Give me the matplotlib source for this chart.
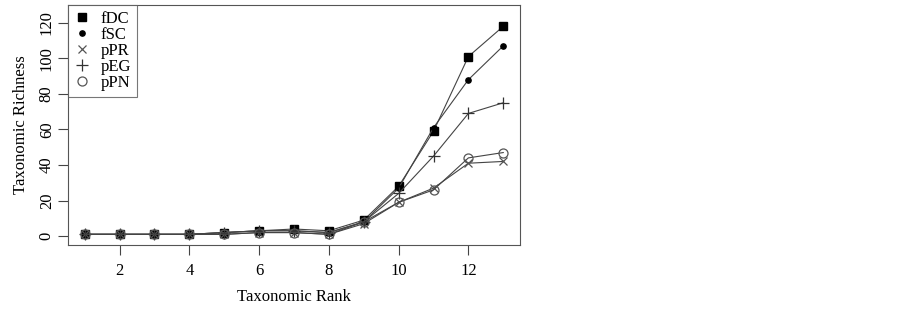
import matplotlib
matplotlib.use('Agg')
from matplotlib import pyplot as plt

plt.rcParams['font.family'] = ['Liberation Serif', 'DejaVu Serif']

rank = [1, 2, 3, 4, 5, 6, 7, 8, 9, 10, 11, 12, 13]
fDC = [1, 1, 1, 1, 2, 3, 4, 3, 9, 28, 59, 101, 118]
fSC = [1, 1, 1, 1, 2, 3, 3, 2, 8, 27, 61, 88, 107]
pPR = [1, 1, 1, 1, 1, 2, 2, 1, 7, 19, 27, 41, 42]
pEG = [1, 1, 1, 1, 2, 3, 3, 2, 8, 24, 45, 69, 75]
pPN = [1, 1, 1, 1, 1, 2, 2, 1, 8, 19, 26, 44, 47]

series = [
    ('fDC', fDC, dict(marker='s', ms=5.5, mfc='black', mec='black')),
    ('fSC', fSC, dict(marker='o', ms=3.8, mfc='black', mec='black')),
    ('pPR', pPR, dict(marker='x', ms=5.5, mfc='none', mec='#555555', mew=0.9)),
    ('pEG', pEG, dict(marker='+', ms=8, mfc='none', mec='#333333', mew=0.9)),
    ('pPN', pPN, dict(marker='o', ms=6.5, mfc='none', mec='#555555', mew=0.9)),
]

fig = plt.figure(figsize=(9.02, 3.09), dpi=100)
ax = fig.add_axes([68/902, 1-245/309, (520-68)/902, (245-5)/309])

for name, vals, st in series:
    ax.plot(rank, vals, color='#444444', lw=0.8, label=name, **st)

ax.set_xlim(0.52, 13.48)
ax.set_ylim(-5, 130)
ax.set_xticks([2, 4, 6, 8, 10, 12])
ax.set_yticks([0, 20, 40, 60, 80, 100, 120])
ax.tick_params(direction='out', length=7, width=0.8, color='#444444', labelsize=12)
ax.tick_params(axis='x', pad=6)
ax.tick_params(axis='y', pad=2.5)
for lab in ax.get_yticklabels():
    lab.set_rotation(90)
    lab.set_va('center')
for s in ax.spines.values():
    s.set_color('#555555')
    s.set_linewidth(0.8)

ax.set_xlabel('Taxonomic Rank', fontsize=12, labelpad=7)
ax.set_ylabel('Taxonomic Richness', fontsize=12, labelpad=7)

leg = ax.legend(loc='upper left', bbox_to_anchor=(0, 1), fontsize=12, frameon=True,
                fancybox=False, borderaxespad=0, handlelength=1.0, handletextpad=0.6,
                labelspacing=0.0, borderpad=0.35)
leg.get_frame().set_edgecolor('#555555')
leg.get_frame().set_linewidth(0.8)
for h in leg.get_lines():
    h.set_linestyle('none')

fig.savefig('out.png', dpi=100)
